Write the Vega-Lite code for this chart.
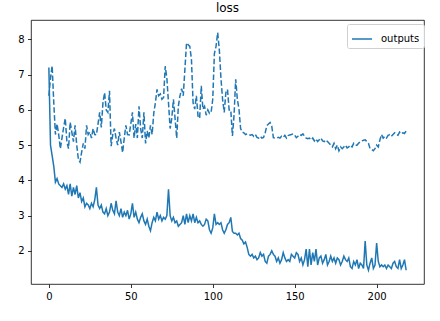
{
"$schema": "https://vega.github.io/schema/vega-lite/v6.json",
"width": 393, "height": 264,
"autosize": {"type": "none"},
"padding": {"left": 31, "top": 20, "right": 16, "bottom": 37},
"title": {"text": "loss", "fontSize": 12, "font": "DejaVu Sans", "fontWeight": "normal", "color": "#000", "offset": 5},
"config": {
  "font": "DejaVu Sans",
  "view": {"stroke": "#000", "strokeWidth": 0.8},
  "axis": {"grid": false, "domain": false, "tickColor": "#000", "tickWidth": 0.8, "tickSize": 3.5, "labelFontSize": 10, "labelColor": "#000", "labelPadding": 3.5, "labelFont": "DejaVu Sans"}
},
"data": {"values": [
{"step":0,"outputs":7.2,"targets":6.4},{"step":1,"outputs":5.0,"targets":6.9},{"step":2,"outputs":4.7,"targets":7.25},{"step":3,"outputs":4.4,"targets":6.2},{"step":4,"outputs":3.95,"targets":5.3},{"step":5,"outputs":4.05,"targets":5.6},{"step":6,"outputs":3.9,"targets":5.3},{"step":7,"outputs":3.85,"targets":4.9},{"step":8,"outputs":3.8,"targets":5.2},{"step":9,"outputs":3.9,"targets":5.5},
{"step":10,"outputs":3.75,"targets":5.76},{"step":11,"outputs":3.85,"targets":5.1},{"step":12,"outputs":3.6,"targets":4.9},{"step":13,"outputs":3.9,"targets":5.65},{"step":14,"outputs":3.55,"targets":5.37},{"step":15,"outputs":3.8,"targets":5.1},{"step":16,"outputs":3.6,"targets":5.56},{"step":17,"outputs":3.85,"targets":5.0},{"step":18,"outputs":3.5,"targets":4.6},{"step":19,"outputs":3.65,"targets":4.52},
{"step":20,"outputs":3.4,"targets":4.8},{"step":21,"outputs":3.5,"targets":5.05},{"step":22,"outputs":3.25,"targets":4.9},{"step":23,"outputs":3.35,"targets":5.56},{"step":24,"outputs":3.3,"targets":5.3},{"step":25,"outputs":3.2,"targets":5.37},{"step":26,"outputs":3.35,"targets":5.2},{"step":27,"outputs":3.25,"targets":5.47},{"step":28,"outputs":3.45,"targets":5.3},{"step":29,"outputs":3.8,"targets":5.29},
{"step":30,"outputs":3.3,"targets":5.6},{"step":31,"outputs":3.2,"targets":5.93},{"step":32,"outputs":3.3,"targets":5.5},{"step":33,"outputs":3.1,"targets":6.2},{"step":34,"outputs":3.05,"targets":6.49},{"step":35,"outputs":3.2,"targets":6.0},{"step":36,"outputs":3.0,"targets":5.93},{"step":37,"outputs":3.1,"targets":6.54},{"step":38,"outputs":3.35,"targets":4.97},{"step":39,"outputs":3.15,"targets":5.3},
{"step":40,"outputs":3.05,"targets":5.47},{"step":41,"outputs":3.42,"targets":5.2},{"step":42,"outputs":3.1,"targets":5.0},{"step":43,"outputs":3.0,"targets":5.37},{"step":44,"outputs":3.2,"targets":5.1},{"step":45,"outputs":2.95,"targets":4.79},{"step":46,"outputs":3.1,"targets":5.2},{"step":47,"outputs":3.0,"targets":5.56},{"step":48,"outputs":3.15,"targets":5.3},{"step":49,"outputs":2.9,"targets":5.29},
{"step":50,"outputs":3.05,"targets":5.6},{"step":51,"outputs":3.35,"targets":5.93},{"step":52,"outputs":2.95,"targets":5.2},{"step":53,"outputs":3.1,"targets":5.6},{"step":54,"outputs":2.9,"targets":5.2},{"step":55,"outputs":2.8,"targets":6.1},{"step":56,"outputs":2.95,"targets":5.47},{"step":57,"outputs":3.05,"targets":5.2},{"step":58,"outputs":2.85,"targets":5.93},{"step":59,"outputs":2.75,"targets":5.05},
{"step":60,"outputs":2.9,"targets":5.4},{"step":61,"outputs":2.7,"targets":5.2},{"step":62,"outputs":2.57,"targets":5.56},{"step":63,"outputs":2.8,"targets":5.3},{"step":64,"outputs":2.95,"targets":5.9},{"step":65,"outputs":2.85,"targets":6.2},{"step":66,"outputs":3.1,"targets":6.58},{"step":67,"outputs":2.9,"targets":6.4},{"step":68,"outputs":3.0,"targets":6.45},{"step":69,"outputs":2.85,"targets":6.3},
{"step":70,"outputs":2.95,"targets":6.35},{"step":71,"outputs":2.9,"targets":7.24},{"step":72,"outputs":3.0,"targets":6.9},{"step":73,"outputs":3.75,"targets":6.2},{"step":74,"outputs":3.0,"targets":5.47},{"step":75,"outputs":2.85,"targets":5.76},{"step":76,"outputs":2.95,"targets":6.3},{"step":77,"outputs":2.8,"targets":5.76},{"step":78,"outputs":2.85,"targets":5.2},{"step":79,"outputs":2.7,"targets":6.1},
{"step":80,"outputs":2.75,"targets":6.4},{"step":81,"outputs":2.8,"targets":6.6},{"step":82,"outputs":3.0,"targets":6.4},{"step":83,"outputs":2.75,"targets":7.15},{"step":84,"outputs":3.05,"targets":7.9},{"step":85,"outputs":2.8,"targets":7.85},{"step":86,"outputs":3.0,"targets":7.8},{"step":87,"outputs":2.85,"targets":7.43},{"step":88,"outputs":3.05,"targets":6.2},{"step":89,"outputs":2.8,"targets":6.02},
{"step":90,"outputs":2.95,"targets":6.4},{"step":91,"outputs":2.8,"targets":5.83},{"step":92,"outputs":2.85,"targets":5.76},{"step":93,"outputs":2.75,"targets":6.68},{"step":94,"outputs":2.7,"targets":6.02},{"step":95,"outputs":2.75,"targets":6.1},{"step":96,"outputs":2.9,"targets":5.85},{"step":97,"outputs":2.85,"targets":6.0},{"step":98,"outputs":2.6,"targets":5.9},{"step":99,"outputs":2.5,"targets":5.93},
{"step":100,"outputs":2.65,"targets":6.3},{"step":101,"outputs":3.05,"targets":7.6},{"step":102,"outputs":2.75,"targets":7.8},{"step":103,"outputs":2.8,"targets":8.19},{"step":104,"outputs":2.75,"targets":7.71},{"step":105,"outputs":2.8,"targets":6.9},{"step":106,"outputs":2.6,"targets":6.3},{"step":107,"outputs":2.5,"targets":5.93},{"step":108,"outputs":2.6,"targets":6.49},{"step":109,"outputs":2.75,"targets":6.58},
{"step":110,"outputs":2.8,"targets":6.0},{"step":111,"outputs":2.95,"targets":6.0},{"step":112,"outputs":2.55,"targets":5.26},{"step":113,"outputs":2.5,"targets":5.85},{"step":114,"outputs":2.5,"targets":6.87},{"step":115,"outputs":2.45,"targets":6.3},{"step":116,"outputs":2.5,"targets":6.02},{"step":117,"outputs":2.35,"targets":5.47},{"step":118,"outputs":2.3,"targets":5.37},{"step":119,"outputs":2.2,"targets":5.35},
{"step":120,"outputs":2.25,"targets":5.3},{"step":121,"outputs":2.1,"targets":5.32},{"step":122,"outputs":1.9,"targets":5.3},{"step":123,"outputs":1.85,"targets":5.28},{"step":124,"outputs":1.9,"targets":5.3},{"step":125,"outputs":1.8,"targets":5.25},{"step":126,"outputs":1.85,"targets":5.3},{"step":127,"outputs":1.75,"targets":5.22},{"step":128,"outputs":1.8,"targets":5.2},{"step":129,"outputs":1.95,"targets":5.25},
{"step":130,"outputs":1.85,"targets":5.2},{"step":131,"outputs":1.9,"targets":5.22},{"step":132,"outputs":1.7,"targets":5.35},{"step":133,"outputs":1.65,"targets":5.55},{"step":134,"outputs":1.85,"targets":5.6},{"step":135,"outputs":1.9,"targets":5.64},{"step":136,"outputs":2.0,"targets":5.54},{"step":137,"outputs":1.9,"targets":5.21},{"step":138,"outputs":1.85,"targets":5.2},{"step":139,"outputs":1.7,"targets":5.2},
{"step":140,"outputs":1.8,"targets":5.22},{"step":141,"outputs":1.65,"targets":5.2},{"step":142,"outputs":1.75,"targets":5.25},{"step":143,"outputs":1.95,"targets":5.22},{"step":144,"outputs":1.8,"targets":5.28},{"step":145,"outputs":1.7,"targets":5.2},{"step":146,"outputs":1.75,"targets":5.27},{"step":147,"outputs":1.7,"targets":5.29},{"step":148,"outputs":1.9,"targets":5.3},{"step":149,"outputs":1.85,"targets":5.32},
{"step":150,"outputs":1.8,"targets":5.28},{"step":151,"outputs":1.95,"targets":5.21},{"step":152,"outputs":1.9,"targets":5.25},{"step":153,"outputs":1.7,"targets":5.3},{"step":154,"outputs":1.8,"targets":5.28},{"step":155,"outputs":1.6,"targets":5.32},{"step":156,"outputs":1.75,"targets":5.25},{"step":157,"outputs":2.05,"targets":5.2},{"step":158,"outputs":1.55,"targets":5.18},{"step":159,"outputs":2.05,"targets":5.2},
{"step":160,"outputs":1.6,"targets":5.15},{"step":161,"outputs":1.95,"targets":5.2},{"step":162,"outputs":1.7,"targets":5.12},{"step":163,"outputs":2.05,"targets":5.18},{"step":164,"outputs":1.6,"targets":5.1},{"step":165,"outputs":1.8,"targets":5.15},{"step":166,"outputs":1.85,"targets":5.2},{"step":167,"outputs":1.65,"targets":5.12},{"step":168,"outputs":1.75,"targets":5.1},{"step":169,"outputs":1.9,"targets":5.15},
{"step":170,"outputs":1.6,"targets":5.1},{"step":171,"outputs":1.7,"targets":5.05},{"step":172,"outputs":1.85,"targets":5.0},{"step":173,"outputs":1.7,"targets":4.95},{"step":174,"outputs":1.8,"targets":5.05},{"step":175,"outputs":1.65,"targets":4.9},{"step":176,"outputs":1.8,"targets":5.0},{"step":177,"outputs":1.75,"targets":4.84},{"step":178,"outputs":1.6,"targets":4.95},{"step":179,"outputs":1.7,"targets":4.9},
{"step":180,"outputs":1.85,"targets":4.95},{"step":181,"outputs":1.75,"targets":5.0},{"step":182,"outputs":1.7,"targets":4.92},{"step":183,"outputs":1.8,"targets":4.95},{"step":184,"outputs":1.55,"targets":5.0},{"step":185,"outputs":1.5,"targets":4.95},{"step":186,"outputs":1.7,"targets":5.05},{"step":187,"outputs":1.6,"targets":5.0},{"step":188,"outputs":1.75,"targets":5.0},{"step":189,"outputs":1.5,"targets":5.05},
{"step":190,"outputs":1.65,"targets":5.1},{"step":191,"outputs":1.6,"targets":5.12},{"step":192,"outputs":1.5,"targets":5.14},{"step":193,"outputs":2.28,"targets":5.15},{"step":194,"outputs":1.6,"targets":5.1},{"step":195,"outputs":1.45,"targets":5.05},{"step":196,"outputs":1.65,"targets":4.9},{"step":197,"outputs":1.8,"targets":4.88},{"step":198,"outputs":1.5,"targets":4.84},{"step":199,"outputs":1.6,"targets":4.9},
{"step":200,"outputs":2.22,"targets":5.0},{"step":201,"outputs":1.7,"targets":4.95},{"step":202,"outputs":1.55,"targets":5.15},{"step":203,"outputs":1.6,"targets":5.3},{"step":204,"outputs":1.55,"targets":5.2},{"step":205,"outputs":1.6,"targets":5.25},{"step":206,"outputs":1.5,"targets":5.2},{"step":207,"outputs":1.6,"targets":5.28},{"step":208,"outputs":1.55,"targets":5.3},{"step":209,"outputs":1.5,"targets":5.25},
{"step":210,"outputs":1.65,"targets":5.3},{"step":211,"outputs":1.7,"targets":5.35},{"step":212,"outputs":1.55,"targets":5.3},{"step":213,"outputs":1.5,"targets":5.28},{"step":214,"outputs":1.75,"targets":5.37},{"step":215,"outputs":1.5,"targets":5.32},{"step":216,"outputs":1.6,"targets":5.35},{"step":217,"outputs":1.75,"targets":5.33},{"step":218,"outputs":1.45,"targets":5.4}
]},
"layer": [
  {
    "mark": {"type": "line", "strokeWidth": 1.5, "strokeDash": [5.55, 2.4], "color": "#1f77b4"},
    "encoding": {
      "x": {"field": "step", "type": "quantitative", "scale": {"domain": [-10.9, 228.9], "nice": false, "zero": false}, "axis": {"values": [0, 50, 100, 150, 200], "title": null}},
      "y": {"field": "targets", "type": "quantitative", "scale": {"domain": [1.06, 8.55], "nice": false, "zero": false}, "axis": {"values": [2, 3, 4, 5, 6, 7, 8], "title": null}}
    }
  },
  {
    "mark": {"type": "line", "strokeWidth": 1.5},
    "encoding": {
      "x": {"field": "step", "type": "quantitative"},
      "y": {"field": "outputs", "type": "quantitative"},
      "color": {"datum": "outputs", "type": "nominal", "scale": {"range": ["#1f77b4"]},
        "legend": {"orient": "none", "legendX": 316, "legendY": 4, "title": null, "symbolType": "stroke", "symbolSize": 400, "symbolStrokeWidth": 1.5, "labelFontSize": 10, "labelColor": "#000", "labelFont": "DejaVu Sans", "labelOffset": 8, "padding": 4, "strokeColor": "#d0d0d0", "fillColor": "rgba(255,255,255,0.8)", "cornerRadius": 2}}
    }
  }
]
}
